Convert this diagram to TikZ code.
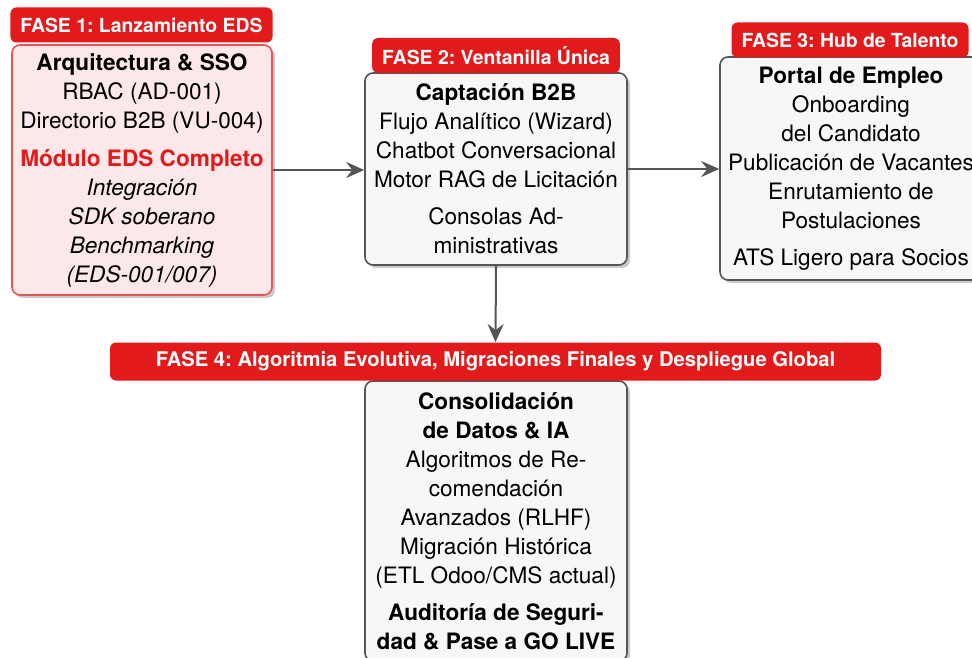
\documentclass[tikz,border=0pt]{standalone}
\usepackage{fontspec}
\setmainfont{TeX Gyre Heros}
\usetikzlibrary{shadows,arrows.meta}
\definecolor{fred}{RGB}{227,26,28}
\definecolor{pinkfill}{RGB}{252,232,233}
\definecolor{grayfill}{RGB}{247,247,247}
\definecolor{bordergray}{RGB}{85,85,85}
\definecolor{arrowgray}{RGB}{85,85,85}
\frenchspacing
\begin{document}
\begin{tikzpicture}[x=0.5pt,y=-0.5pt,
 box/.style={draw=bordergray, fill=grayfill, line width=0.8pt, rounded corners=4pt, align=center, inner sep=0pt, font=\fontsize{11.3}{14.5}\selectfont, drop shadow={shadow xshift=1.5pt, shadow yshift=-1.5pt, opacity=0.35, fill=black!60}},
 redbox/.style={box, draw=fred!75, fill=pinkfill},
 phase/.style={fill=fred, text=white, rounded corners=3pt, font=\fontsize{9.7}{11}\selectfont\bfseries, inner xsep=5pt, inner ysep=0pt, minimum height=17.5pt},
 conn/.style={draw=arrowgray, line width=1pt, -{Stealth[length=9pt,width=8pt,inset=3pt]}}]
\useasboundingbox (0,0) rectangle (972,657);

\node[redbox, minimum width=130pt, minimum height=125pt] (b1) at (142,170)
 {\textbf{Arquitectura \& SSO}\\ RBAC (AD-001)\\ Directorio B2B (VU-004)\\[4.5pt]
  \textcolor{fred}{\textbf{Módulo EDS Completo}}\\ \textit{Integración}\\ \textit{SDK soberano}\\ \textit{Benchmarking}\\ \textit{(EDS-001/007)}};

\node[box, minimum width=131pt, minimum height=96pt] (b2) at (496,169)
 {\textbf{Captación B2B}\\ Flujo Analítico (Wizard)\\ Chatbot Conversacional\\ Motor RAG de Licitación\\[4pt]
  Consolas Ad-\\ ministrativas};

\node[box, minimum width=131pt, minimum height=111.5pt] (b3) at (851,168.5)
 {\textbf{Portal de Empleo}\\ Onboarding\\ del Candidato\\ Publicación de Vacantes\\ Enrutamiento de\\ Postulaciones\\[4pt]
  ATS Ligero para Socios};

\node[box, minimum width=131pt, minimum height=140pt] (b4) at (496,521)
 {\textbf{Consolidación}\\ \textbf{de Datos \& IA}\\ Algoritmos de Re-\\ comendación\\ Avanzados (RLHF)\\ Migración Histórica\\ (ETL Odoo/CMS actual)\\[4pt]
  \textbf{Auditoría de Seguri-}\\ \textbf{dad \& Pase a GO LIVE}};

\node[phase] (l1) at (141.5,25) {FASE 1: Lanzamiento EDS};
\node[phase] (l2) at (496,55.5) {FASE 2: Ventanilla Única};
\node[phase] (l3) at (850,40) {FASE 3: Hub de Talento};
\node[phase, minimum width=385.5pt, minimum height=19pt, font=\fontsize{10.1}{12}\selectfont\bfseries] (l4) at (495.5,361.5) {FASE 4: Algoritmia Evolutiva, Migraciones Finales y Despliegue Global};

\draw[conn] (b1.east) -- (b1.east -| b2.west);
\draw[conn] (b2.east) -- (b2.east -| b3.west);
\draw[conn] (b2.south) -- (l4.north);
\end{tikzpicture}
\end{document}
